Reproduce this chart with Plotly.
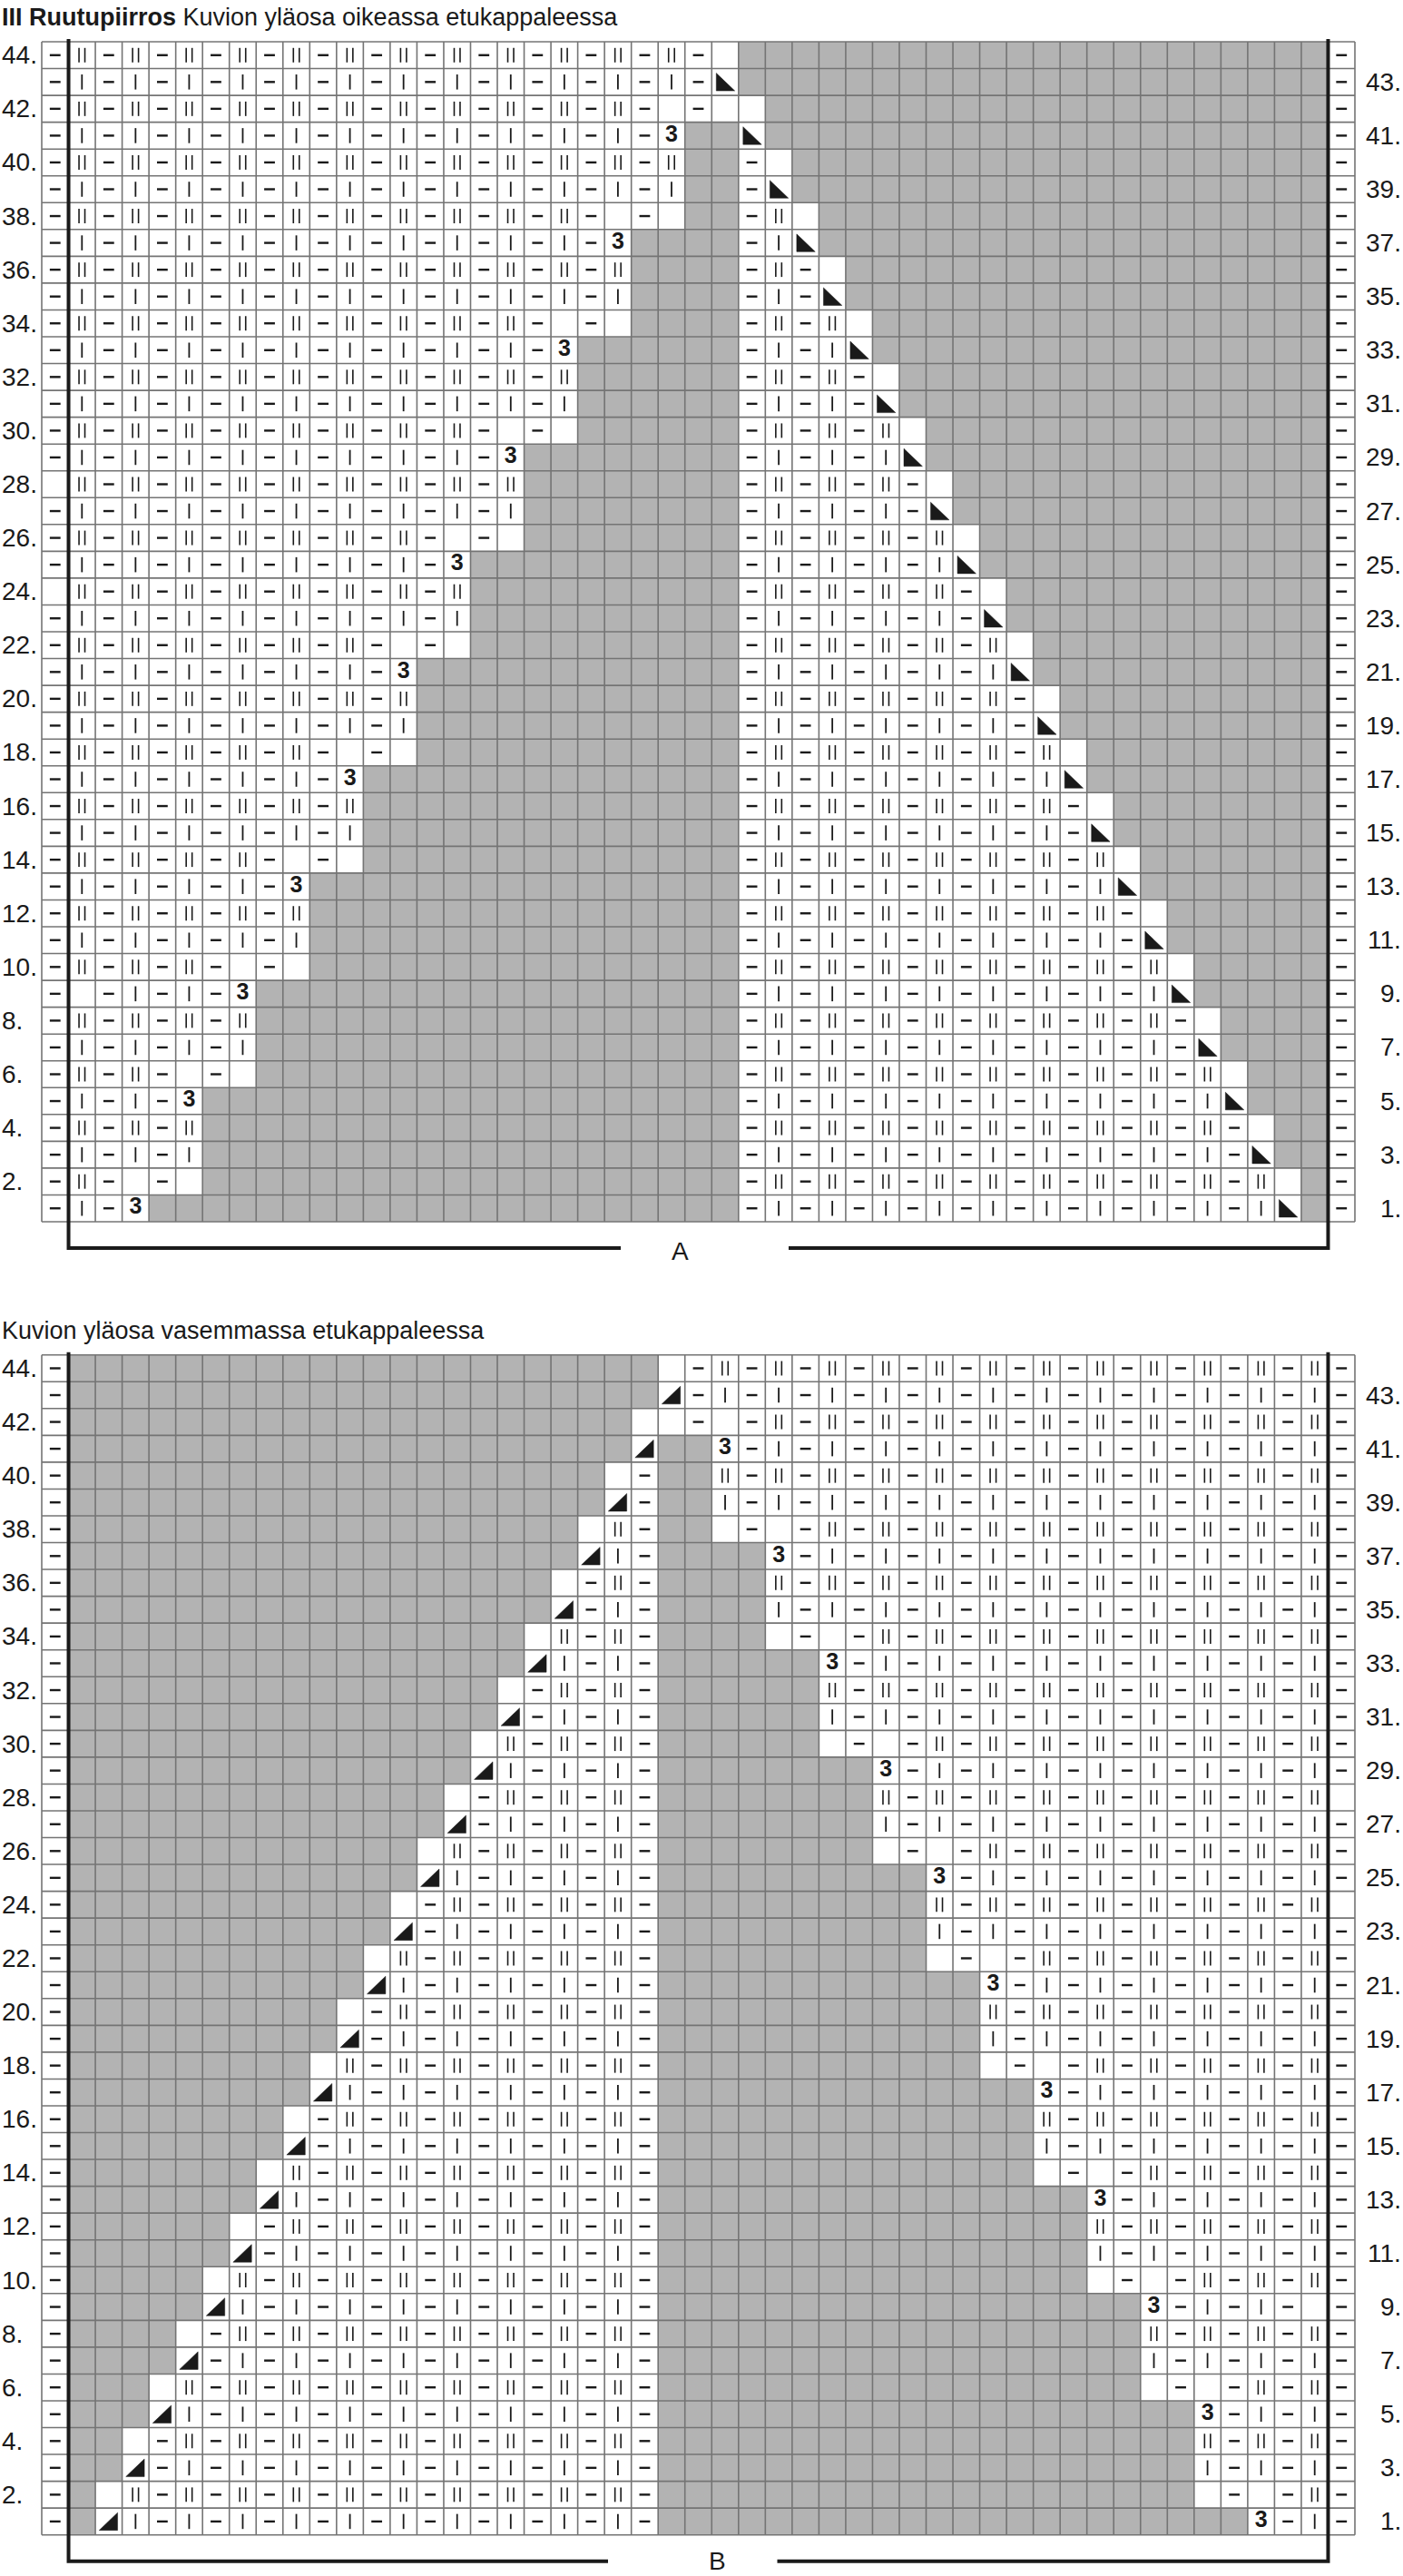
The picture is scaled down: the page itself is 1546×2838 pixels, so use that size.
import plotly.graph_objects as go

# ---------------- data ----------------
# Row numbers, listed from the top row of each chart down to row 1
ROW_NUMBERS = list(range(44, 0, -1))
ROW_LABELS = [f"{r}." for r in ROW_NUMBERS]

# Cell codes: '-' purl dash, 'i' one bar, 'H' two bars, '3' bold three,
# 'T' black triangle, '.' empty white cell, '#' grey (no stitch)
CHART_A = [
    "-H-H-H-H-H-H-H-H-H-H-H-H-.######################-",
    "-i-i-i-i-i-i-i-i-i-i-i-i-T######################-",
    "-H-H-H-H-H-H-H-H-H-H-H-.-..#####################-",
    "-i-i-i-i-i-i-i-i-i-i-i-3##T#####################-",
    "-H-H-H-H-H-H-H-H-H-H-H-H##-.####################-",
    "-i-i-i-i-i-i-i-i-i-i-i-i##-T####################-",
    "-H-H-H-H-H-H-H-H-H-H-.-.##-H.###################-",
    "-i-i-i-i-i-i-i-i-i-i-3####-iT###################-",
    "-H-H-H-H-H-H-H-H-H-H-H####-H-.##################-",
    "-i-i-i-i-i-i-i-i-i-i-i####-i-T##################-",
    "-H-H-H-H-H-H-H-H-H-.-.####-H-H.#################-",
    "-i-i-i-i-i-i-i-i-i-3######-i-iT#################-",
    "-H-H-H-H-H-H-H-H-H-H######-H-H-.################-",
    "-i-i-i-i-i-i-i-i-i-i######-i-i-T################-",
    "-H-H-H-H-H-H-H-H-.-.######-H-H-H.###############-",
    "-i-i-i-i-i-i-i-i-3########-i-i-iT###############-",
    ".H-H-H-H-H-H-H-H-H########-H-H-H-.##############-",
    "-i-i-i-i-i-i-i-i-i########-i-i-i-T##############-",
    "-H-H-H-H-H-H-H-.-.########-H-H-H-H.#############-",
    "-i-i-i-i-i-i-i-3##########-i-i-i-iT#############-",
    ".H-H-H-H-H-H-H-H##########-H-H-H-H-.############-",
    "-i-i-i-i-i-i-i-i##########-i-i-i-i-T############-",
    "-H-H-H-H-H-H-.-.##########-H-H-H-H-H.###########-",
    "-i-i-i-i-i-i-3############-i-i-i-i-iT###########-",
    "-H-H-H-H-H-H-H############-H-H-H-H-H-.##########-",
    "-i-i-i-i-i-i-i############-i-i-i-i-i-T##########-",
    "-H-H-H-H-H-.-.############-H-H-H-H-H-H.#########-",
    "-i-i-i-i-i-3##############-i-i-i-i-i-iT#########-",
    "-H-H-H-H-H-H##############-H-H-H-H-H-H-.########-",
    "-i-i-i-i-i-i##############-i-i-i-i-i-i-T########-",
    "-H-H-H-H-.-.##############-H-H-H-H-H-H-H.#######-",
    "-i-i-i-i-3################-i-i-i-i-i-i-iT#######-",
    "-H-H-H-H-H################-H-H-H-H-H-H-H-.######-",
    "-i-i-i-i-i################-i-i-i-i-i-i-i-T######-",
    "-H-H-H-.-.################-H-H-H-H-H-H-H-H.#####-",
    "-.-i-i-3##################-i-i-i-i-i-i-i-iT#####-",
    "-H-H-H-H##################-H-H-H-H-H-H-H-H-.####-",
    "-i-i-i-i##################-i-i-i-i-i-i-i-i-T####-",
    "-H-H-.-.##################-H-H-H-H-H-H-H-H-H.###-",
    "-i-i-3####################-i-i-i-i-i-i-i-i-iT###-",
    "-H-H-H####################-H-H-H-H-H-H-H-H-H-.##-",
    "-i-i-i####################-i-i-i-i-i-i-i-i-i-T##-",
    "-H-.-.####################-H-H-H-H-H-H-H-H-H-H.#-",
    "-i-3######################-i-i-i-i-i-i-i-i-i-iT#-",
]

CHART_B = [
    "-######################.-H-H-H-H-H-H-H-H-H-H-H-H-",
    "-######################T-i-i-i-i-i-i-i-i-i-i-i-i-",
    "-#####################..-.-H-H-H-H-H-H-H-H-H-H-H-",
    "-#####################T##3-i-i-i-i-i-i-i-i-i-i-i-",
    "-####################.-##H-H-H-H-H-H-H-H-H-H-H-H-",
    "-####################T-##i-i-i-i-i-i-i-i-i-i-i-i-",
    "-###################.H-##.-.-H-H-H-H-H-H-H-H-H-H-",
    "-###################Ti-####3-i-i-i-i-i-i-i-i-i-i-",
    "-##################.-H-####H-H-H-H-H-H-H-H-H-H-H-",
    "-##################T-i-####i-i-i-i-i-i-i-i-i-i-i-",
    "-#################.H-H-####.-.-H-H-H-H-H-H-H-H-H-",
    "-#################Ti-i-######3-i-i-i-i-i-i-i-i-i-",
    "-################.-H-H-######H-H-H-H-H-H-H-H-H-H-",
    "-################T-i-i-######i-i-i-i-i-i-i-i-i-i-",
    "-###############.H-H-H-######.-.-H-H-H-H-H-H-H-H-",
    "-###############Ti-i-i-########3-i-i-i-i-i-i-i-i-",
    "-##############.-H-H-H-########H-H-H-H-H-H-H-H-H.",
    "-##############T-i-i-i-########i-i-i-i-i-i-i-i-i-",
    "-#############.H-H-H-H-########.-.-H-H-H-H-H-H-H-",
    "-#############Ti-i-i-i-##########3-i-i-i-i-i-i-i-",
    "-############.-H-H-H-H-##########H-H-H-H-H-H-H-H.",
    "-############T-i-i-i-i-##########i-i-i-i-i-i-i-i-",
    "-###########.H-H-H-H-H-##########.-.-H-H-H-H-H-H-",
    "-###########Ti-i-i-i-i-############3-i-i-i-i-i-i-",
    "-##########.-H-H-H-H-H-############H-H-H-H-H-H-H-",
    "-##########T-i-i-i-i-i-############i-i-i-i-i-i-i-",
    "-#########.H-H-H-H-H-H-############.-.-H-H-H-H-H-",
    "-#########Ti-i-i-i-i-i-##############3-i-i-i-i-i-",
    "-########.-H-H-H-H-H-H-##############H-H-H-H-H-H-",
    "-########T-i-i-i-i-i-i-##############i-i-i-i-i-i-",
    "-#######.H-H-H-H-H-H-H-##############.-.-H-H-H-H-",
    "-#######Ti-i-i-i-i-i-i-################3-i-i-i-i-",
    "-######.-H-H-H-H-H-H-H-################H-H-H-H-H-",
    "-######T-i-i-i-i-i-i-i-################i-i-i-i-i-",
    "-#####.H-H-H-H-H-H-H-H-################.-.-H-H-H-",
    "-#####Ti-i-i-i-i-i-i-i-##################3-i-i-.-",
    "-####.-H-H-H-H-H-H-H-H-##################H-H-H-H-",
    "-####T-i-i-i-i-i-i-i-i-##################i-i-i-i-",
    "-###.H-H-H-H-H-H-H-H-H-##################.-.-H-H-",
    "-###Ti-i-i-i-i-i-i-i-i-####################3-i-i-",
    "-##.-H-H-H-H-H-H-H-H-H-####################H-H-H-",
    "-##T-i-i-i-i-i-i-i-i-i-####################i-i-i-",
    "-#.H-H-H-H-H-H-H-H-H-H-####################.-.-H-",
    "-#Ti-i-i-i-i-i-i-i-i-i-######################3-i-",
]

TITLE_A_BOLD = "III Ruutupiirros"
TITLE_A_TEXT = "Kuvion yläosa oikeassa etukappaleessa"
TITLE_B_TEXT = "Kuvion yläosa vasemmassa etukappaleessa"
PART_LABELS = {"A": "A", "B": "B"}

# ---------------- layout constants (pixels) ----------------
W, H = 1546, 2838
NCOL, NROW = 49, 44
GRID_L, GRID_R = 46.0, 1493.0
CHART_TOP = {"A": 46.0, "B": 1492.7}
CHART_BOT = {"A": 1346.0, "B": 2792.7}
CW = (GRID_R - GRID_L) / NCOL
RH = (CHART_BOT["A"] - CHART_TOP["A"]) / NROW
# bracket: left segment end, right segment start, label x, label y (px)
BRACKET = {"A": (684.0, 869.0, 749.5, 1378.0), "B": (670.0, 856.5, 790.0, 2821.0)}
TITLE_Y = {"A": 19.0, "B": 1466.0}
LEFT_LABEL_X, RIGHT_LABEL_X = 1.0, 1545.0

GRAY = "#b3b3b3"
GRID = "#747474"
INK = "#1a1a1a"
FONT = "Liberation Sans, Arial, Helvetica, sans-serif"

for nm, rows in (("A", CHART_A), ("B", CHART_B)):
    assert len(rows) == NROW, nm
    for i, s in enumerate(rows):
        assert len(s) == NCOL, (nm, ROW_NUMBERS[i], len(s))


def xd(px):
    return 0.5 + (px - GRID_L) / CW


def yd(py):
    return 0.5 + (CHART_BOT["B"] - py) / RH


def xp(px):
    return px / W


def yp(py):
    return 1.0 - py / H


fig = go.Figure()
annotations = []

for nm, rows in (("A", CHART_A), ("B", CHART_B)):
    off = yd(CHART_BOT[nm]) - 0.5
    order = list(range(NROW))[::-1]
    ys = [ROW_NUMBERS[i] + off for i in order]
    z = [[1 if ch == "#" else 0 for ch in rows[i]] for i in order]
    fig.add_trace(go.Heatmap(
        z=z, x=list(range(1, NCOL + 1)), y=ys,
        colorscale=[[0, "#ffffff"], [1, GRAY]], zmin=0, zmax=1,
        showscale=False, hoverinfo="skip"))

    # grid lines
    gx, gy = [], []
    y0, y1 = off + 0.5, off + NROW + 0.5
    for k in range(NCOL + 1):
        gx += [0.5 + k, 0.5 + k, None]
        gy += [y0, y1, None]
    for k in range(NROW + 1):
        gx += [0.5, NCOL + 0.5, None]
        gy += [y0 + k, y0 + k, None]
    fig.add_trace(go.Scatter(x=gx, y=gy, mode="lines",
                             line=dict(color=GRID, width=1.6), hoverinfo="skip"))

    dx, dy, bx, by, hx, hy, tx, ty, thx, thy = [], [], [], [], [], [], [], [], [], []
    for i, s in enumerate(rows):
        yc = ROW_NUMBERS[i] + off
        for c, ch in enumerate(s, start=1):
            if ch == "-":
                dx += [c - 0.2, c + 0.2, None]
                dy += [yc, yc, None]
            elif ch == "i":
                bx += [c, c, None]
                by += [yc - 0.28, yc + 0.28, None]
            elif ch == "H":
                for d in (-0.11, 0.11):
                    hx += [c + d, c + d, None]
                    hy += [yc - 0.27, yc + 0.27, None]
            elif ch == "T":
                if nm == "A":
                    tx += [c - 0.33, c - 0.33, c + 0.36, c - 0.33, None]
                else:
                    tx += [c + 0.33, c + 0.33, c - 0.36, c + 0.33, None]
                ty += [yc + 0.33, yc - 0.33, yc - 0.33, yc + 0.33, None]
            elif ch == "3":
                thx.append(c)
                thy.append(yc)
    fig.add_trace(go.Scatter(x=dx, y=dy, mode="lines",
                             line=dict(color=INK, width=2.4), hoverinfo="skip"))
    fig.add_trace(go.Scatter(x=bx, y=by, mode="lines",
                             line=dict(color=INK, width=1.8), hoverinfo="skip"))
    fig.add_trace(go.Scatter(x=hx, y=hy, mode="lines",
                             line=dict(color=INK, width=1.6), hoverinfo="skip"))
    fig.add_trace(go.Scatter(x=tx, y=ty, mode="lines", fill="toself",
                             fillcolor=INK, line=dict(color=INK, width=0.5),
                             hoverinfo="skip"))
    fig.add_trace(go.Scatter(x=thx, y=thy, mode="text", text=["<b>3</b>"] * len(thx),
                             textposition="middle center",
                             textfont=dict(family=FONT, size=25, color=INK),
                             hoverinfo="skip"))

    # bracket lines
    l_end, r_start, lab_x, lab_y = BRACKET[nm]
    ytop = yd(CHART_TOP[nm] - 3)
    ybot = yd(CHART_BOT[nm] + 29)
    fig.add_trace(go.Scatter(
        x=[1.5, 1.5, xd(l_end), None, xd(r_start), NCOL - 0.5, NCOL - 0.5],
        y=[ytop, ybot, ybot, None, ybot, ybot, ytop],
        mode="lines", line=dict(color=INK, width=4), hoverinfo="skip"))
    annotations.append(dict(x=xp(lab_x), y=yp(lab_y), xref="paper", yref="paper",
                            text=PART_LABELS[nm], showarrow=False,
                            xanchor="center", yanchor="middle", borderpad=0,
                            font=dict(family=FONT, size=28, color=INK)))

    # row labels: even rows on the left, odd rows on the right
    for i, r in enumerate(ROW_NUMBERS):
        ypx = CHART_BOT[nm] - (r - 0.5) * RH
        if r % 2 == 0:
            annotations.append(dict(x=xp(LEFT_LABEL_X), y=yp(ypx), xref="paper", yref="paper",
                                    text=ROW_LABELS[i], showarrow=False,
                                    xanchor="left", yanchor="middle", borderpad=0,
                                    font=dict(family=FONT, size=28, color=INK)))
        else:
            annotations.append(dict(x=xp(RIGHT_LABEL_X), y=yp(ypx), xref="paper", yref="paper",
                                    text=ROW_LABELS[i], showarrow=False,
                                    xanchor="right", yanchor="middle", borderpad=0,
                                    font=dict(family=FONT, size=28, color=INK)))

annotations.append(dict(x=xp(1), y=yp(TITLE_Y["A"]), xref="paper", yref="paper",
                        text=f"<b>{TITLE_A_BOLD}</b> {TITLE_A_TEXT}", showarrow=False,
                        xanchor="left", yanchor="middle", borderpad=0,
                        font=dict(family=FONT, size=27, color=INK)))
annotations.append(dict(x=xp(1), y=yp(TITLE_Y["B"]), xref="paper", yref="paper",
                        text=TITLE_B_TEXT, showarrow=False,
                        xanchor="left", yanchor="middle", borderpad=0,
                        font=dict(family=FONT, size=27, color=INK)))

fig.update_layout(
    width=W, height=H, autosize=False,
    margin=dict(l=0, r=0, t=0, b=0, pad=0),
    paper_bgcolor="white", plot_bgcolor="white", showlegend=False,
    xaxis=dict(range=[xd(0), xd(W)], visible=False, fixedrange=True),
    yaxis=dict(range=[yd(H), yd(0)], visible=False, fixedrange=True),
    annotations=annotations,
)

fig.write_html("out.html", config={"displayModeBar": False, "staticPlot": True},
               post_script="document.body.style.margin='0';document.body.style.padding='0';document.body.style.overflow='hidden';")
